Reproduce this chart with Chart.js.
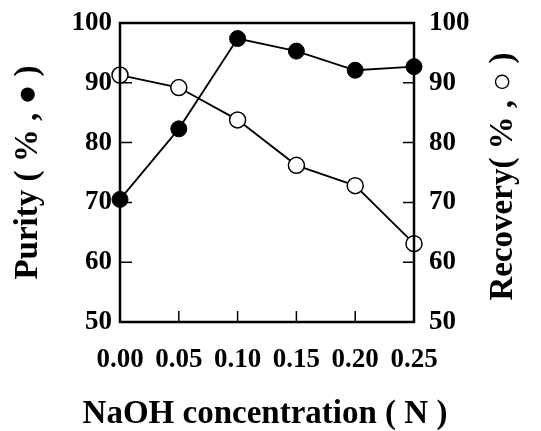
<!DOCTYPE html>
<html>
<head>
<meta charset="utf-8">
<script src="https://cdn.jsdelivr.net/npm/chart.js@4.4.1/dist/chart.umd.min.js"></script>
<style>
  html, body { margin: 0; padding: 0; background: #fff; }
  #wrap { width: 541px; height: 431px; }
</style>
</head>
<body>
<div id="wrap"><canvas id="c" width="541" height="431"></canvas></div>
<script>
  // NaOH concentration (N)
  var conc = [0.00, 0.05, 0.10, 0.15, 0.20, 0.25];
  // purity (%), filled circles
  var purity = [70.5, 82.3, 97.4, 95.3, 92.1, 92.7];
  // recovery (%), open circles
  var recovery = [91.3, 89.2, 83.8, 76.2, 72.8, 63.1];
  var yTicks = [50, 60, 70, 80, 90, 100];
  var xTicks = [0.00, 0.05, 0.10, 0.15, 0.20, 0.25];
  var rightTitle = 'Recovery( % , \u25CB )';
  var bottomTitle = 'NaOH concentration ( N )';

  var serif = '"Liberation Serif", "Times New Roman", serif';

  function pts(ys) { return conc.map(function (x, i) { return { x: x, y: ys[i] }; }); }

  // frame, inward tick marks, and the titles chart.js would squeeze or flip
  var frameTicks = {
    id: 'frameTicks',
    afterDatasetsDraw: function (chart) {
      var ctx = chart.ctx, a = chart.chartArea;
      var sx = chart.scales.x, sy = chart.scales.y, sy1 = chart.scales.y1;
      ctx.save();
      ctx.strokeStyle = '#000';
      ctx.lineWidth = 2.5;
      ctx.strokeRect(a.left, a.top, a.right - a.left, a.bottom - a.top);
      ctx.lineWidth = 1.5;
      ctx.beginPath();
      xTicks.slice(1, -1).forEach(function (v) {
        var px = sx.getPixelForValue(v);
        ctx.moveTo(px, a.bottom); ctx.lineTo(px, a.bottom - 11);
      });
      yTicks.slice(1, -1).forEach(function (v) {
        var py = sy.getPixelForValue(v);
        ctx.moveTo(a.left, py); ctx.lineTo(a.left + 12, py);
        var py1 = sy1.getPixelForValue(v);
        ctx.moveTo(a.right, py1); ctx.lineTo(a.right - 11, py1);
      });
      ctx.stroke();

      ctx.fillStyle = '#000';
      ctx.font = 'bold 33px ' + serif;
      ctx.textAlign = 'center';
      ctx.textBaseline = 'middle';
      ctx.fillText(bottomTitle, (a.left + a.right) / 2 - 2, 414);

      ctx.translate(503, (a.top + a.bottom) / 2 + 4);
      ctx.rotate(-Math.PI / 2);
      ctx.fillText(rightTitle, 0, 0);
      ctx.restore();
    }
  };

  var tickFont = { family: serif, size: 27, weight: 'bold' };
  var titleFont = { family: serif, size: 33, weight: 'bold', lineHeight: 1 };

  function fitY(w) {
    return function (s) { s.width = w; s.paddingTop = 0; s.paddingBottom = 0; };
  }

  new Chart(document.getElementById('c'), {
    type: 'line',
    data: {
      datasets: [
        {
          label: 'Recovery', data: pts(recovery), yAxisID: 'y1',
          borderColor: '#000', borderWidth: 1.8, pointRadius: 8, pointBorderWidth: 1.5,
          pointBackgroundColor: '#fff', pointBorderColor: '#000', clip: false, tension: 0
        },
        {
          label: 'Purity', data: pts(purity), yAxisID: 'y',
          borderColor: '#000', borderWidth: 1.8, pointRadius: 8, pointBorderWidth: 1,
          pointBackgroundColor: '#000', pointBorderColor: '#000', clip: false, tension: 0
        }
      ]
    },
    options: {
      responsive: false, animation: false, devicePixelRatio: 1,
      layout: { padding: { top: 23, left: 0, right: 0, bottom: 0 } },
      plugins: { legend: { display: false }, tooltip: { enabled: false } },
      scales: {
        x: {
          type: 'linear', min: 0, max: 0.25,
          afterBuildTicks: function (s) { s.ticks = xTicks.map(function (v) { return { value: v }; }); },
          ticks: { font: tickFont, color: '#000', padding: 22, maxRotation: 0,
                   callback: function (v) { return Number(v).toFixed(2); } },
          grid: { display: false, drawTicks: false },
          border: { display: false },
          title: { display: false },
          afterFit: function (s) { s.height = 109; s.paddingLeft = 0; s.paddingRight = 0; }
        },
        y: {
          position: 'left', min: 50, max: 100,
          afterBuildTicks: function (s) { s.ticks = yTicks.map(function (v) { return { value: v }; }); },
          ticks: { font: tickFont, color: '#000', padding: 8 },
          grid: { display: false, drawTicks: false },
          border: { display: false },
          title: { display: true, text: 'Purity ( % , \u25CF )', font: titleFont, color: '#000', padding: { top: 12, bottom: 0 } },
          afterFit: fitY(120)
        },
        y1: {
          position: 'right', min: 50, max: 100,
          afterBuildTicks: function (s) { s.ticks = yTicks.map(function (v) { return { value: v }; }); },
          ticks: { font: tickFont, color: '#000', padding: 15 },
          grid: { display: false, drawTicks: false },
          border: { display: false },
          title: { display: false },
          afterFit: fitY(127)
        }
      }
    },
    plugins: [frameTicks]
  });
</script>
</body>
</html>
